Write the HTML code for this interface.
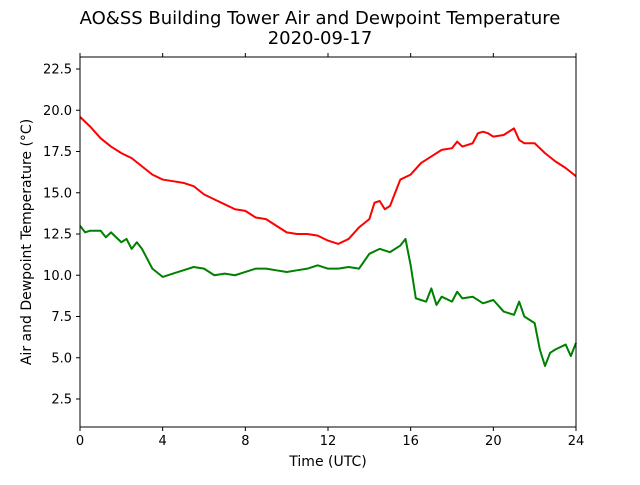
<!DOCTYPE html>
<html><head><meta charset="utf-8"><style>
body{margin:0;background:#fff;}
svg text{font-family:"DejaVu Sans","Liberation Sans",sans-serif;}
</style></head><body>
<svg id="chart" width="640" height="480" xmlns="http://www.w3.org/2000/svg">
<text x="320" y="24" text-anchor="middle" font-size="18">AO&amp;SS Building Tower Air and Dewpoint Temperature</text>
<text x="320" y="44" text-anchor="middle" font-size="18">2020-09-17</text>
<text x="328" y="466" text-anchor="middle" font-size="14">Time (UTC)</text>
<text transform="translate(31,242) rotate(-90)" text-anchor="middle" font-size="14">Air and Dewpoint Temperature (°C)</text>
<g id="axes"></g>
<g id="series"></g>
<rect x="80" y="57" width="496" height="370" fill="none" stroke="#000" stroke-width="1"/>
</svg>
<script>
const airHours=[0,0.5,1,1.5,2,2.5,3,3.5,4,4.5,5,5.5,6,6.5,7,7.5,8,8.5,9,9.5,10,10.5,11,11.5,12,12.5,13,13.5,14,14.25,14.5,14.75,15,15.25,15.5,16,16.5,17,17.5,18,18.25,18.5,18.75,19,19.25,19.5,19.75,20,20.5,21,21.25,21.5,22,22.5,23,23.5,24];
const airTemp=[19.6,19.0,18.3,17.8,17.4,17.1,16.6,16.1,15.8,15.7,15.6,15.4,14.9,14.6,14.3,14.0,13.9,13.5,13.4,13.0,12.6,12.5,12.5,12.4,12.1,11.9,12.2,12.9,13.4,14.4,14.5,14.0,14.2,15.0,15.8,16.1,16.8,17.2,17.6,17.7,18.1,17.8,17.9,18.0,18.6,18.7,18.6,18.4,18.5,18.9,18.2,18.0,18.0,17.4,16.9,16.5,16.0];
const dewHours=[0,0.25,0.5,1,1.25,1.5,2,2.25,2.5,2.75,3,3.5,4,4.5,5,5.5,6,6.5,7,7.5,8,8.5,9,9.5,10,10.5,11,11.5,12,12.5,13,13.5,14,14.5,15,15.5,15.75,16,16.25,16.5,16.75,17,17.25,17.5,18,18.25,18.5,19,19.5,20,20.5,21,21.25,21.5,22,22.25,22.5,22.75,23,23.5,23.75,24];
const dewTemp=[13.0,12.6,12.7,12.7,12.3,12.6,12.0,12.2,11.6,12.0,11.6,10.4,9.9,10.1,10.3,10.5,10.4,10.0,10.1,10.0,10.2,10.4,10.4,10.3,10.2,10.3,10.4,10.6,10.4,10.4,10.5,10.4,11.3,11.6,11.4,11.8,12.2,10.6,8.6,8.5,8.4,9.2,8.2,8.7,8.4,9.0,8.6,8.7,8.3,8.5,7.8,7.6,8.4,7.5,7.1,5.5,4.5,5.3,5.5,5.8,5.1,5.9];
const xTicks=[0,4,8,12,16,20,24];
const yTicks=[2.5,5.0,7.5,10.0,12.5,15.0,17.5,20.0,22.5];
const NS="http://www.w3.org/2000/svg";
const X=h=>80+h*(496/24);
const Y=v=>69+(22.5-v)*16.5;
const axes=document.getElementById('axes');
xTicks.forEach(t=>{
  for(const yy of [427,57]){
    const l=document.createElementNS(NS,'line');
    
    
    l.setAttribute('x1',X(t));l.setAttribute('x2',X(t));
    l.setAttribute('y1',yy);l.setAttribute('y2',yy===427?431:53);
    l.setAttribute('stroke','#000');axes.appendChild(l);
  }
  const tx=document.createElementNS(NS,'text');
  
  
  tx.setAttribute('x',X(t));tx.setAttribute('y',445);tx.setAttribute('font-size','13');
  tx.setAttribute('text-anchor','middle');tx.textContent=t;axes.appendChild(tx);
});
yTicks.forEach(t=>{
  const l=document.createElementNS(NS,'line');
  
  
  l.setAttribute('x1',76);l.setAttribute('x2',80);
  l.setAttribute('y1',Y(t));l.setAttribute('y2',Y(t));
  l.setAttribute('stroke','#000');axes.appendChild(l);
  const tx=document.createElementNS(NS,'text');
  
  
  tx.setAttribute('x',72);tx.setAttribute('y',Y(t)+4.5);tx.setAttribute('font-size','13');
  tx.setAttribute('text-anchor','end');tx.textContent=t.toFixed(1);axes.appendChild(tx);
});
const ser=document.getElementById('series');
function line(hs,vs,color,name){
  const p=document.createElementNS(NS,'polyline');
  
  
  p.setAttribute('points',hs.map((h,i)=>X(h)+','+Y(vs[i])).join(' '));
  p.setAttribute('fill','none');p.setAttribute('stroke',color);p.setAttribute('stroke-width','2');
  p.setAttribute('stroke-linejoin','round');
  ser.appendChild(p);
}
line(airHours,airTemp,'#ff0000','air-temperature-line');
line(dewHours,dewTemp,'#008000','dewpoint-line');
</script>
</body></html>
